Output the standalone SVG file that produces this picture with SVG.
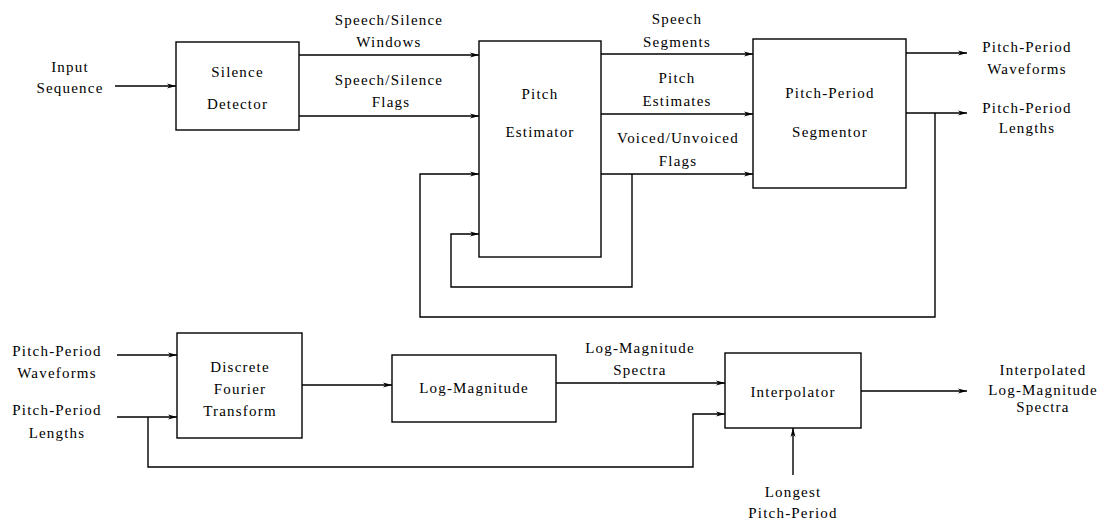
<svg xmlns="http://www.w3.org/2000/svg" width="1105" height="523" viewBox="0 0 1105 523" font-family="'Liberation Serif', 'DejaVu Serif', serif">
<style>
.box{fill:#fff;stroke:#000;stroke-width:1.4}
.ln{fill:none;stroke:#000;stroke-width:1.4}
.arr{marker-end:url(#ah)}
text{font-family:'Liberation Serif','DejaVu Serif',serif;font-size:15px;fill:#000;text-anchor:middle;letter-spacing:1.2px}
</style>
<defs>
<marker id="ah" markerWidth="10" markerHeight="8" refX="9" refY="4" orient="auto" markerUnits="userSpaceOnUse">
<path d="M0,1.5 L9,4 L0,6.5 L2.5,4 Z" fill="#000"/>
</marker>
</defs>
<rect width="1105" height="523" fill="#fff"/>
<g id="connectors">
<path class="ln arr" d="M115,86 H176"/>
<path class="ln arr" d="M299,55 H479"/>
<path class="ln arr" d="M299,116 H479"/>
<path class="ln arr" d="M601,54 H753"/>
<path class="ln arr" d="M601,114 H753"/>
<path class="ln arr" d="M601,174 H753"/>
<path class="ln arr" d="M906,53 H967"/>
<path class="ln arr" d="M906,113 H967"/>
<path class="ln arr" d="M935,113 V317 H420 V174 H479"/>
<path class="ln arr" d="M632,174 V287 H451 V234 H479"/>
<path class="ln arr" d="M117,355 H177"/>
<path class="ln arr" d="M117,417 H177"/>
<path class="ln arr" d="M302,385 H392"/>
<path class="ln arr" d="M556,383 H725"/>
<path class="ln arr" d="M148,417 V467 H693 V414 H725"/>
<path class="ln arr" d="M861,391 H967"/>
<path class="ln arr" d="M793,475 V428"/>
</g>
<g id="labels">
<text x="70" y="72">Input</text>
<text x="70" y="93">Sequence</text>
<text x="389" y="25">Speech/Silence</text>
<text x="389" y="47">Windows</text>
<text x="389" y="85">Speech/Silence</text>
<text x="391" y="107">Flags</text>
<text x="677" y="24">Speech</text>
<text x="677" y="47">Segments</text>
<text x="677" y="83">Pitch</text>
<text x="677" y="106">Estimates</text>
<text x="678" y="143">Voiced/Unvoiced</text>
<text x="678" y="166">Flags</text>
<text x="1027" y="52">Pitch-Period</text>
<text x="1027" y="74">Waveforms</text>
<text x="1027" y="113">Pitch-Period</text>
<text x="1027" y="133">Lengths</text>
<text x="57" y="356">Pitch-Period</text>
<text x="57" y="378">Waveforms</text>
<text x="57" y="415">Pitch-Period</text>
<text x="57" y="438">Lengths</text>
<text x="640" y="353">Log-Magnitude</text>
<text x="640" y="375">Spectra</text>
<text x="1043" y="375">Interpolated</text>
<text x="1043" y="395">Log-Magnitude</text>
<text x="1043" y="412">Spectra</text>
<text x="793" y="497">Longest</text>
<text x="793" y="518">Pitch-Period</text>
</g>
<g id="silence-detector">
<rect class="box" x="176" y="42" width="123" height="88"/>
<text x="237.5" y="77">Silence</text>
<text x="237.5" y="109">Detector</text>
</g>
<g id="pitch-estimator">
<rect class="box" x="479" y="41" width="122" height="216"/>
<text x="540" y="99">Pitch</text>
<text x="540" y="137">Estimator</text>
</g>
<g id="pitch-period-segmentor">
<rect class="box" x="753" y="39" width="153" height="149"/>
<text x="830" y="98">Pitch-Period</text>
<text x="830" y="137">Segmentor</text>
</g>
<g id="dft">
<rect class="box" x="177" y="333" width="125" height="105"/>
<text x="240" y="372">Discrete</text>
<text x="240" y="394">Fourier</text>
<text x="240" y="416">Transform</text>
</g>
<g id="log-magnitude">
<rect class="box" x="392" y="355" width="164" height="67"/>
<text x="474" y="393">Log-Magnitude</text>
</g>
<g id="interpolator">
<rect class="box" x="725" y="353" width="136" height="75"/>
<text x="793" y="397">Interpolator</text>
</g>
</svg>
